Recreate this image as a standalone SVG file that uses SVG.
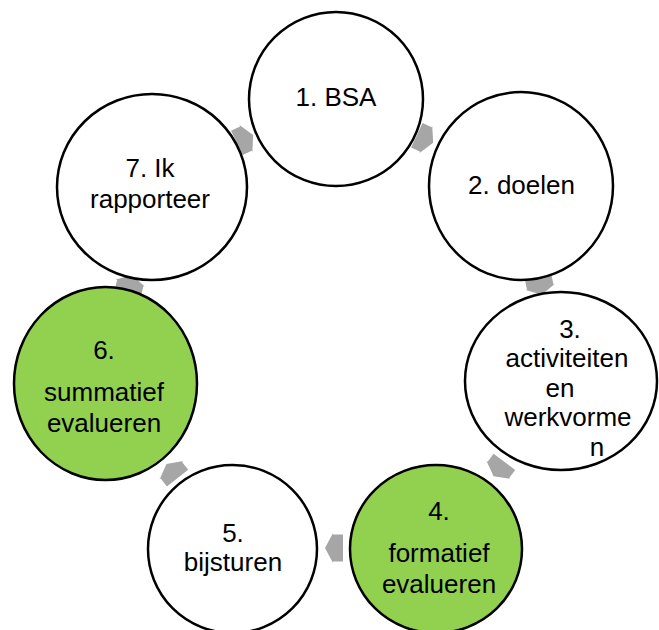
<svg xmlns="http://www.w3.org/2000/svg" width="659" height="630" viewBox="0 0 659 630">
<defs>
<style>
.node{stroke:#000;stroke-width:2.5}
.w{fill:#fff}
.g{fill:#92D050}
.arr{fill:#A6A6A6}
text{font-family:"Liberation Sans",Arial,sans-serif;font-size:26px;fill:#000;text-anchor:middle}
</style>
<polygon id="arrow" points="-9,-13.5 1,-13.5 1,-15 9,0 1,15 1,13.5 -9,13.5"/>
</defs>
<rect width="659" height="630" fill="#fff"/>
<g id="connectors" class="arr">
<use href="#arrow" transform="translate(425,139) rotate(25)"/>
<use href="#arrow" transform="translate(540,286) rotate(78)"/>
<use href="#arrow" transform="translate(499,469) rotate(127)"/>
<use href="#arrow" transform="translate(334,548) rotate(180)"/>
<use href="#arrow" transform="translate(172,471) rotate(232)"/>
<use href="#arrow" transform="translate(130,284) rotate(-76.5)"/>
<use href="#arrow" transform="translate(245,139) rotate(-25.6)"/>
</g>
<g id="node1">
<ellipse class="node w" cx="336" cy="99" rx="87" ry="87"/>
<text x="336" y="106">1. BSA</text>
</g>
<g id="node2">
<ellipse class="node w" cx="521" cy="186" rx="92" ry="94"/>
<text x="521.5" y="194">2. doelen</text>
</g>
<g id="node3">
<ellipse class="node w" cx="561" cy="381" rx="96" ry="89"/>
<text x="570" y="337.5">3.</text>
<text x="567" y="367">activiteiten</text>
<text x="560" y="396.5">en</text>
<text x="568" y="426">werkvorme</text>
<text x="597" y="456">n</text>
</g>
<g id="node4">
<ellipse class="node g" cx="436" cy="549" rx="86" ry="84"/>
<text x="439" y="520">4.</text>
<text x="439" y="561.5">formatief</text>
<text x="439" y="592.5">evalueren</text>
</g>
<g id="node5">
<ellipse class="node w" cx="232.5" cy="549" rx="84.5" ry="84"/>
<text x="233" y="541.5">5.</text>
<text x="233" y="571">bijsturen</text>
</g>
<g id="node6">
<ellipse class="node g" cx="105.5" cy="383.5" rx="91.5" ry="96.5"/>
<text x="104" y="358.5">6.</text>
<text x="104" y="400.5">summatief</text>
<text x="104" y="431.5">evalueren</text>
</g>
<g id="node7">
<ellipse class="node w" cx="152" cy="187" rx="95" ry="93"/>
<text x="150" y="177">7. Ik</text>
<text x="150" y="208">rapporteer</text>
</g>
</svg>
